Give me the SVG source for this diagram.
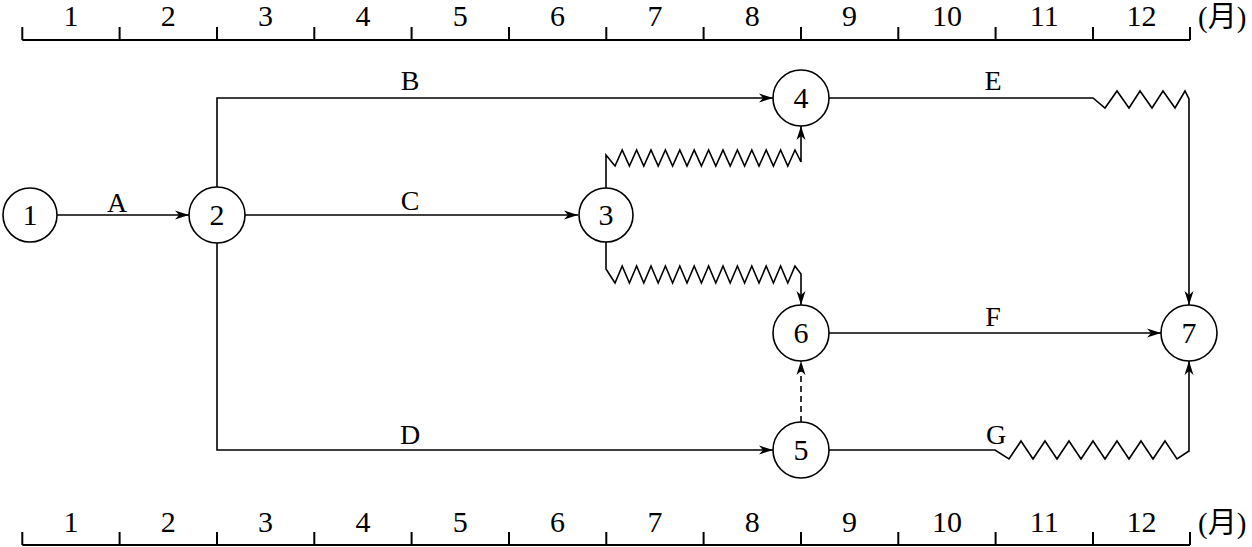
<svg xmlns="http://www.w3.org/2000/svg" width="1252" height="547" viewBox="0 0 1252 547">
<defs>
<style>
.ax{stroke:#000;stroke-width:2;fill:none}
.ln{stroke:#000;stroke-width:1.6;fill:none}
.nd{stroke:#000;stroke-width:1.6;fill:#fff}
.sc{font-family:"Liberation Serif","Times New Roman",serif;font-size:30px;text-anchor:middle}
.nt{font-family:"Liberation Serif","Times New Roman",serif;font-size:30px;text-anchor:middle}
.lb{font-family:"Liberation Serif","Times New Roman",serif;font-size:28px;text-anchor:middle}
.mo{font-family:"Liberation Serif","Noto Sans CJK SC",serif;font-size:29px}
</style>
<marker id="ar" markerUnits="userSpaceOnUse" markerWidth="18" markerHeight="12" refX="16" refY="6" orient="auto">
<path d="M16,6 L2,1.5 L6,6 L2,10.5 Z" fill="#000"/>
</marker>
</defs>
<rect width="1252" height="547" fill="#fff"/>
<g id="scale-top">
<path class="ax" d="M22.3,40 H1190 M22.3,27 V40 M119.6,27 V40 M217,27 V40 M314.3,27 V40 M411.6,27 V40 M509,27 V40 M606.3,27 V40 M703.6,27 V40 M801,27 V40 M898.3,27 V40 M995.6,27 V40 M1093,27 V40 M1190,27 V40"/>
<text class="sc" x="71" y="26">1</text><text class="sc" x="168.3" y="26">2</text><text class="sc" x="265.6" y="26">3</text><text class="sc" x="363" y="26">4</text><text class="sc" x="460.3" y="26">5</text><text class="sc" x="557.6" y="26">6</text><text class="sc" x="655" y="26">7</text><text class="sc" x="752.3" y="26">8</text><text class="sc" x="849.6" y="26">9</text><text class="sc" x="947" y="26">10</text><text class="sc" x="1044.3" y="26">11</text><text class="sc" x="1141.6" y="26">12</text>
<text class="mo" x="1198" y="27">(月)</text>
</g>
<g id="scale-bottom">
<path class="ax" d="M22.3,545 H1190 M22.3,532 V545 M119.6,532 V545 M217,532 V545 M314.3,532 V545 M411.6,532 V545 M509,532 V545 M606.3,532 V545 M703.6,532 V545 M801,532 V545 M898.3,532 V545 M995.6,532 V545 M1093,532 V545 M1190,532 V545"/>
<text class="sc" x="71" y="532">1</text><text class="sc" x="168.3" y="532">2</text><text class="sc" x="265.6" y="532">3</text><text class="sc" x="363" y="532">4</text><text class="sc" x="460.3" y="532">5</text><text class="sc" x="557.6" y="532">6</text><text class="sc" x="655" y="532">7</text><text class="sc" x="752.3" y="532">8</text><text class="sc" x="849.6" y="532">9</text><text class="sc" x="947" y="532">10</text><text class="sc" x="1044.3" y="532">11</text><text class="sc" x="1141.6" y="532">12</text>
<text class="mo" x="1198" y="533">(月)</text>
</g>
<g id="connectors">
<path class="ln" marker-end="url(#ar)" d="M57,215 H189"/>
<path class="ln" marker-end="url(#ar)" d="M217,187 V98 H773"/>
<path class="ln" marker-end="url(#ar)" d="M245,215 H578"/>
<path class="ln" marker-end="url(#ar)" d="M217,243 V450 H773"/>
<path class="ln" marker-end="url(#ar)" d="M606,188 V155 L615,166 L622.2,150 L629.4,166 L636.6,150 L643.8,166 L651,150 L658.2,166 L665.4,150 L672.6,166 L679.8,150 L687,166 L694.2,150 L701.4,166 L708.6,150 L715.8,166 L723,150 L730.2,166 L737.4,150 L744.6,166 L751.8,150 L759,166 L766.2,150 L773.4,166 L780.6,150 L787.8,166 L795,150 L801,162 V126"/>
<path class="ln" marker-end="url(#ar)" d="M606,242 V269 L615,283 L622.2,266 L629.4,283 L636.6,266 L643.8,283 L651,266 L658.2,283 L665.4,266 L672.6,283 L679.8,266 L687,283 L694.2,266 L701.4,283 L708.6,266 L715.8,283 L723,266 L730.2,283 L737.4,266 L744.6,283 L751.8,266 L759,283 L766.2,266 L773.4,283 L780.6,266 L787.8,283 L795,266 L801,274 V305"/>
<path class="ln" marker-end="url(#ar)" d="M829,98 H1093 L1105,108 L1117,91 L1129,108 L1140,91 L1152,108 L1163,91 L1175,108 L1185,91 L1189,99 V305"/>
<path class="ln" marker-end="url(#ar)" d="M829,333 H1161"/>
<path class="ln" marker-end="url(#ar)" d="M829,450 H995 L1009,459 L1021,441 L1033,459 L1045,441 L1057,459 L1069,441 L1081,459 L1093,441 L1105,459 L1117,441 L1129,459 L1141,441 L1153,459 L1165,441 L1177,459 L1189,451 V361"/>
<path class="ln" stroke-dasharray="6,4" marker-end="url(#ar)" d="M801,422 V361"/>
<text class="lb" x="117" y="212">A</text>
<text class="lb" x="410" y="90">B</text>
<text class="lb" x="410" y="210">C</text>
<text class="lb" x="410" y="444">D</text>
<text class="lb" x="993" y="90">E</text>
<text class="lb" x="993" y="326">F</text>
<text class="lb" x="996" y="444">G</text>
</g>
<g id="node1"><circle class="nd" cx="30" cy="215" r="27"/><text class="nt" x="30" y="225">1</text></g>
<g id="node2"><circle class="nd" cx="217" cy="215" r="28"/><text class="nt" x="217" y="225">2</text></g>
<g id="node3"><circle class="nd" cx="606" cy="215" r="27"/><text class="nt" x="606" y="225">3</text></g>
<g id="node4"><circle class="nd" cx="801" cy="98" r="28"/><text class="nt" x="801" y="108">4</text></g>
<g id="node5"><circle class="nd" cx="801" cy="450" r="28"/><text class="nt" x="801" y="460">5</text></g>
<g id="node6"><circle class="nd" cx="801" cy="333" r="28"/><text class="nt" x="801" y="343">6</text></g>
<g id="node7"><circle class="nd" cx="1189" cy="333" r="28"/><text class="nt" x="1189" y="343">7</text></g>
</svg>
